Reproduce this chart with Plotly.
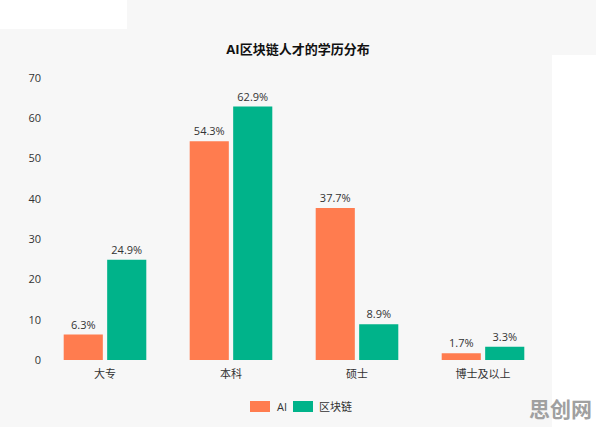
import plotly.graph_objects as go

categories = ["大专", "本科", "硕士", "博士及以上"]
ai_values = [6.3, 54.3, 37.7, 1.7]
chain_values = [24.9, 62.9, 8.9, 3.3]
series_names = ["AI", "区块链"]
series_colors = ["#FF7C4F", "#00B38A"]
title_text = "AI区块链人才的学历分布"
y_ticks = [0, 10, 20, 30, 40, 50, 60, 70]

W, H = 596, 427
ML, MR, MT, MB = 42, 50, 78, 67

FONT = "Open Sans, Noto Sans CJK SC, sans-serif"

fig = go.Figure()
for name, vals, color in zip(series_names, [ai_values, chain_values], series_colors):
    fig.add_trace(go.Bar(
        x=categories, y=vals, name=name,
        marker=dict(color=color, line=dict(width=0)),
        text=[f"{v}%" for v in vals], textposition="outside",
        textfont=dict(size=11, color="#333333", family=FONT),
        cliponaxis=False, showlegend=False,
    ))

pw = W - ML - MR
ph = H - MT - MB

def px_x(x):
    return (x - ML) / pw

def px_y(y):
    return (H - MB - y) / ph

shapes = [
    dict(type="rect", xref="paper", yref="paper", layer="below",
         x0=px_x(0), x1=px_x(127), y0=px_y(29), y1=px_y(0),
         fillcolor="#ffffff", line=dict(width=0)),
    dict(type="rect", xref="paper", yref="paper", layer="below",
         x0=px_x(552), x1=px_x(596), y0=px_y(427), y1=px_y(55),
         fillcolor="#ffffff", line=dict(width=0)),
]
annotations = [
    dict(text="思创网", xref="paper", yref="paper",
         x=px_x(560), y=px_y(408), xanchor="center", yanchor="middle",
         showarrow=False,
         font=dict(size=21, color="#a0a0a0", family="Noto Sans CJK SC",
                   weight=700)),
]

# manual legend (swatches like the reference)
legend_items = [(250, 270, 275), (293, 313, 317)]
for (sx0, sx1, tx), name, color in zip(legend_items, series_names, series_colors):
    shapes.append(dict(type="rect", xref="paper", yref="paper",
                       x0=px_x(sx0), x1=px_x(sx1), y0=px_y(412), y1=px_y(401),
                       fillcolor=color, line=dict(width=0)))
    annotations.append(dict(text=name, xref="paper", yref="paper",
                            x=px_x(tx), y=px_y(406.5), xanchor="left",
                            yanchor="middle", showarrow=False,
                            font=dict(size=11, color="#333333", family=FONT)))

fig.update_layout(
    width=W, height=H,
    margin=dict(l=ML, r=MR, t=MT, b=MB, autoexpand=False),
    paper_bgcolor="#f7f7f7", plot_bgcolor="rgba(0,0,0,0)",
    font=dict(family=FONT, size=11, color="#333333"),
    barmode="group", bargap=0.31, bargroupgap=0.1,
    title=dict(text="<b>" + title_text + "</b>", x=0.5, xanchor="center",
               y=1 - 49 / H, yanchor="middle",
               font=dict(size=13, color="#111111", family=FONT)),
    showlegend=False,
    xaxis=dict(showgrid=False, showline=False, zeroline=False, ticks="",
               ticklabelstandoff=6, automargin=False,
               tickfont=dict(size=11, color="#333333")),
    yaxis=dict(range=[0, 70], tickvals=y_ticks, showgrid=False,
               showline=False, zeroline=False, ticks="", automargin=False,
               tickfont=dict(size=11, color="#333333")),
    shapes=shapes,
    annotations=annotations,
)

fig.write_html("out.html")
